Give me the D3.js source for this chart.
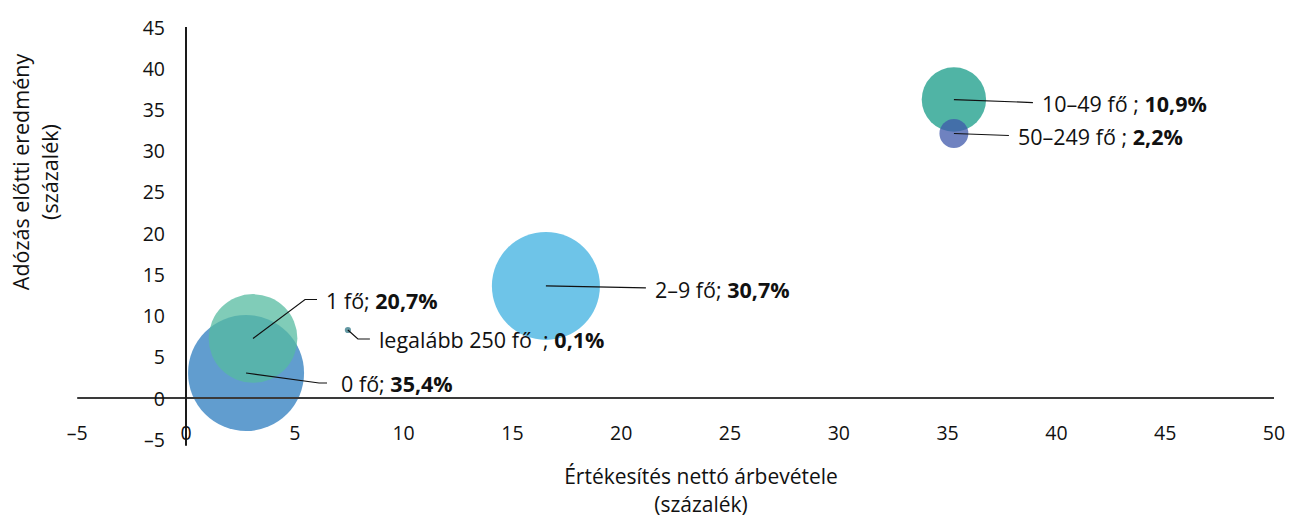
<!DOCTYPE html>
<html>
<head>
<meta charset="utf-8">
<script src="https://cdn.jsdelivr.net/npm/d3@7"></script>
<style>
  body { margin: 0; background: #fff; }
  svg { font-family: "Open Sans", Lato, sans-serif; }
</style>
</head>
<body>
<svg width="1290" height="518"></svg>
<script>
'use strict';

// chart data
var categories = ['0 fő', '1 fő', '2–9 fő', '10–49 fő', '50–249 fő', 'legalább 250 fő'];
var revenue    = [2.76, 3.08, 16.54, 35.29, 35.29, 7.44];   // x
var profit     = [3.03, 7.22, 13.59, 36.2, 32.08, 8.25];    // y
var shares     = [35.4, 20.7, 30.7, 10.9, 2.2, 0.1];        // bubble size
var shareText  = ['35,4%', '20,7%', '30,7%', '10,9%', '2,2%', '0,1%'];
var separators = ['; ', '; ', '; ', ' ; ', ' ; ', '  ; '];
var xTicks = [-5, 0, 5, 10, 15, 20, 25, 30, 35, 40, 45, 50];
var yTicks = [-5, 0, 5, 10, 15, 20, 25, 30, 35, 40, 45];

var colors = ['#2c7cbf', '#56bba0', '#3eb0e0', '#169b87', '#3f58ab', '#2f7684'];

// leader line layout, pixel offsets from the bubble centre
var leaders = [
  {pts: [[73, 10], [81, 10]], lx: 95, ly: 10},
  {pts: [[52, -39], [64, -39]], lx: 73, ly: -38},
  {pts: [[100, 2]], lx: 109, ly: 3},
  {pts: [[79, 3]], lx: 88, ly: 3},
  {pts: [[55, 2]], lx: 64, ly: 2},
  {pts: [[10, 9], [22, 9]], lx: 31, ly: 9}
];

var svg = d3.select('svg');

var x = d3.scaleLinear().domain([0, 50]).range([186, 1274]);
var y = d3.scaleLinear().domain([0, 45]).range([398, 27]);
var r = d3.scaleSqrt().domain([0, 35.4]).range([0, 58]);

var data = categories.map(function(c, i) {
  return {name: c, x: revenue[i], y: profit[i], share: shares[i], i: i};
});

// bubbles
svg.append('g').selectAll('circle')
  .data(data)
  .enter().append('circle')
    .attr('cx', function(d) { return x(d.x); })
    .attr('cy', function(d) { return y(d.y); })
    .attr('r', function(d) { return Math.max(r(d.share), 2.5); })
    .attr('fill', function(d) { return colors[d.i]; })
    .attr('fill-opacity', 0.75);

// axis lines
svg.append('line')
  .attr('x1', x(-5)).attr('x2', x(50))
  .attr('y1', y(0)).attr('y2', y(0))
  .attr('stroke', '#3a3a3a').attr('stroke-width', 2);
svg.append('line')
  .attr('x1', x(0)).attr('x2', x(0))
  .attr('y1', y(45)).attr('y2', y(-5.8))
  .attr('stroke', '#1a1a1a').attr('stroke-width', 2);

// tick labels
svg.append('g').selectAll('text')
  .data(xTicks)
  .enter().append('text')
    .attr('x', function(d) { return x(d); })
    .attr('y', 432)
    .attr('text-anchor', 'middle')
    .attr('dominant-baseline', 'central')
    .style('font-size', '19.5px')
    .attr('fill', '#111')
    .text(function(d) { return d < 0 ? '–' + Math.abs(d) : d; });

svg.append('g').selectAll('text')
  .data(yTicks)
  .enter().append('text')
    .attr('x', 165)
    .attr('y', function(d) { return y(d); })
    .attr('text-anchor', 'end')
    .attr('dominant-baseline', 'central')
    .style('font-size', '19.5px')
    .attr('fill', '#111')
    .text(function(d) { return d < 0 ? '–' + Math.abs(d) : d; });

// leader lines + labels
var lab = svg.append('g').selectAll('g')
  .data(data)
  .enter().append('g')
    .attr('transform', function(d) { return 'translate(' + x(d.x) + ',' + y(d.y) + ')'; });

lab.append('polyline')
  .attr('points', function(d) {
    return [[0, 0]].concat(leaders[d.i].pts).map(function(p) { return p.join(','); }).join(' ');
  })
  .attr('fill', 'none')
  .attr('stroke', '#111')
  .attr('stroke-width', 1.2);

var t = lab.append('text')
  .attr('x', function(d) { return leaders[d.i].lx; })
  .attr('y', function(d) { return leaders[d.i].ly; })
  .attr('dominant-baseline', 'central')
  .style('font-size', '21.5px')
  .attr('fill', '#111')
  .attr('xml:space', 'preserve');
t.append('tspan').text(function(d) { return d.name + separators[d.i]; });
t.append('tspan').attr('font-weight', 'bold').text(function(d) { return shareText[d.i]; });

// axis titles
var xt1 = svg.append('text')
  .attr('x', 701).attr('y', 484)
  .attr('text-anchor', 'middle')
  .style('font-size', '21px')
  .attr('fill', '#111')
  .text('Értékesítés nettó árbevétele');
var xt2 = svg.append('text')
  .attr('x', 701).attr('y', 512)
  .attr('text-anchor', 'middle')
  .style('font-size', '21px')
  .attr('fill', '#111')
  .text('(százalék)');

var yt = svg.append('text')
  .attr('text-anchor', 'middle')
  .attr('transform', 'translate(0,172) rotate(-90)')
  .style('font-size', '21.5px')
  .attr('fill', '#111');
yt.append('tspan').attr('x', 0).attr('y', 29).text('Adózás előtti eredmény');
yt.append('tspan').attr('x', 0).attr('y', 58).text('(százalék)');
</script>
</body>
</html>
